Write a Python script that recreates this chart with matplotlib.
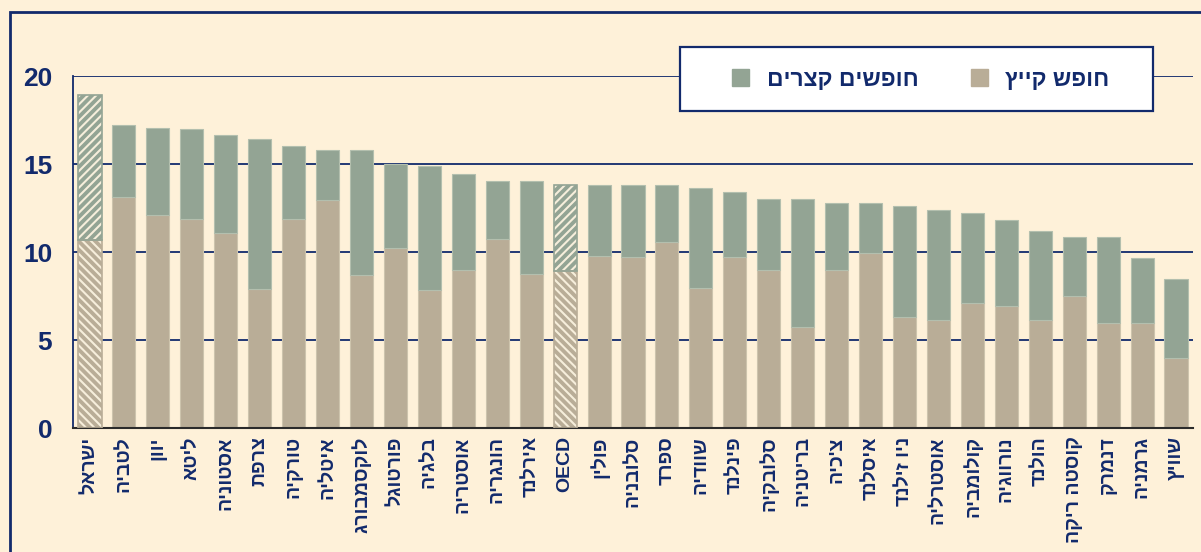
import numpy as np
import matplotlib
matplotlib.use("Agg")
import matplotlib.pyplot as plt
from matplotlib.patches import Rectangle, Patch

# countries in display order (Hebrew, logical order)
countries = ["ישראל", "לטביה", "יוון", "ליטא", "אסטוניה", "צרפת", "טורקיה", "איטליה",
             "לוקסמבורג", "פורטוגל", "בלגיה", "אוסטריה", "הונגריה", "אירלנד", "OECD",
             "פולין", "סלובניה", "ספרד", "שוודיה", "פינלנד", "סלובקיה", "בריטניה",
             "צ'כיה", "איסלנד", "ניו זילנד", "אוסטרליה", "קולומביה", "נורווגיה",
             "הולנד", "קוסטה ריקה", "דנמרק", "גרמניה", "שוויץ"]

# summer vacation and total (summer + short holidays), weeks
summer = [10.7, 13.1, 12.1, 11.9, 11.1, 7.9, 11.9, 12.95, 8.7, 10.2, 7.85, 9.0, 10.75, 8.75, 8.9,
          9.75, 9.7, 10.55, 7.95, 9.7, 9.0, 5.75, 9.0, 9.95, 6.3, 6.15, 7.1, 6.95, 6.15, 7.5,
          5.95, 5.95, 3.95]
total = [18.9, 17.2, 17.05, 17.0, 16.65, 16.4, 16.0, 15.8, 15.8, 15.0, 14.9, 14.45, 14.05, 14.05, 13.8,
         13.8, 13.8, 13.8, 13.65, 13.4, 13.0, 13.0, 12.8, 12.8, 12.6, 12.4, 12.2, 11.8, 11.2, 10.85,
         10.85, 9.65, 8.45]
highlight = ["ישראל", "OECD"]

summer_label = "חופש קייץ"
short_label = "חופשים קצרים"

navy = "#122a6c"
bg = "#fef1d9"
c_summer = "#b9ad97"
c_short = "#93a494"


def vis(s):
    # matplotlib has no bidi: reverse Hebrew strings into visual order
    if any("\u0590" <= ch <= "\u05ff" for ch in s):
        return s[::-1]
    return s


plt.rcParams['font.family'] = ['Liberation Sans', 'DejaVu Sans']
plt.rcParams['hatch.linewidth'] = 1.5

W, H = 1201, 552
fig = plt.figure(figsize=(W / 100, H / 100), dpi=100, facecolor=bg)
ax = fig.add_axes([73 / W, 1 - 428 / H, 1120 / W, 352 / H])
ax.set_facecolor(bg)

x = np.arange(len(countries))
summer = np.array(summer)
short = np.array(total) - summer
hl = np.array([c in highlight for c in countries])
bw = 0.68

# normal bars
ax.bar(x[~hl], summer[~hl], bw, color=c_summer, edgecolor="#cdc4ad", linewidth=0.8, zorder=2)
ax.bar(x[~hl], short[~hl], bw, bottom=summer[~hl], color=c_short, edgecolor="#b3bfae",
       linewidth=0.8, zorder=2)
# hatched bars (Israel, OECD)
ax.bar(x[hl], summer[hl], bw, color=c_summer, edgecolor="#f6eedb", hatch="\\\\\\\\", linewidth=0, zorder=2)
ax.bar(x[hl], summer[hl], bw, fill=False, edgecolor=c_summer, linewidth=1.2, zorder=3)
ax.bar(x[hl], short[hl], bw, bottom=summer[hl], color=c_short, edgecolor="#f6eedb", hatch="////",
       linewidth=0, zorder=2)
ax.bar(x[hl], short[hl], bw, bottom=summer[hl], fill=False, edgecolor=c_short, linewidth=1.2, zorder=3)

ax.set_xlim(-0.5, len(countries) - 0.5)
ax.set_ylim(0, 20)
ax.set_yticks([0, 5, 10, 15, 20])
ax.yaxis.grid(True, color=navy, linewidth=1.3)
ax.set_axisbelow(True)
for s in ["top", "right"]:
    ax.spines[s].set_visible(False)
ax.spines["left"].set_color(navy)
ax.spines["left"].set_linewidth(1.3)
ax.spines["bottom"].set_color("#2b2b2b")
ax.spines["bottom"].set_linewidth(1.5)
ax.tick_params(axis="y", length=0, pad=15, labelsize=19, labelcolor=navy)
ax.tick_params(axis="x", length=0, pad=6)
for t in ax.get_yticklabels():
    t.set_fontweight("bold")
ax.set_xticks(x)
ax.set_xticklabels([vis(c) for c in countries], rotation=90, fontsize=14,
                   fontweight="bold", color=navy, va="top", ha="center")

# outer frame
fig.add_artist(Rectangle((10 / W, -0.1), 1.2, 1.1 - 12 / H, transform=fig.transFigure,
                         fill=False, edgecolor=navy, linewidth=2, zorder=1))

# legend box
fig.add_artist(Rectangle((680 / W, 1 - 111 / H), 473 / W, 64 / H, transform=fig.transFigure,
                         facecolor="white", edgecolor=navy, linewidth=1.6, zorder=5))
handles = [Patch(color=c_short), Patch(color=c_summer)]
leg = fig.legend(handles, [vis(short_label), vis(summer_label)], ncol=2, frameon=False,
                 loc="center", bbox_to_anchor=(921 / W, 1 - 79 / H),
                 prop={"weight": "bold", "size": 16.5}, handlelength=0.75, handleheight=0.75,
                 handletextpad=0.75, columnspacing=2.3)
leg.set_zorder(6)
for t in leg.get_texts():
    t.set_color(navy)

fig.savefig("out.png", dpi=100, facecolor=bg)
